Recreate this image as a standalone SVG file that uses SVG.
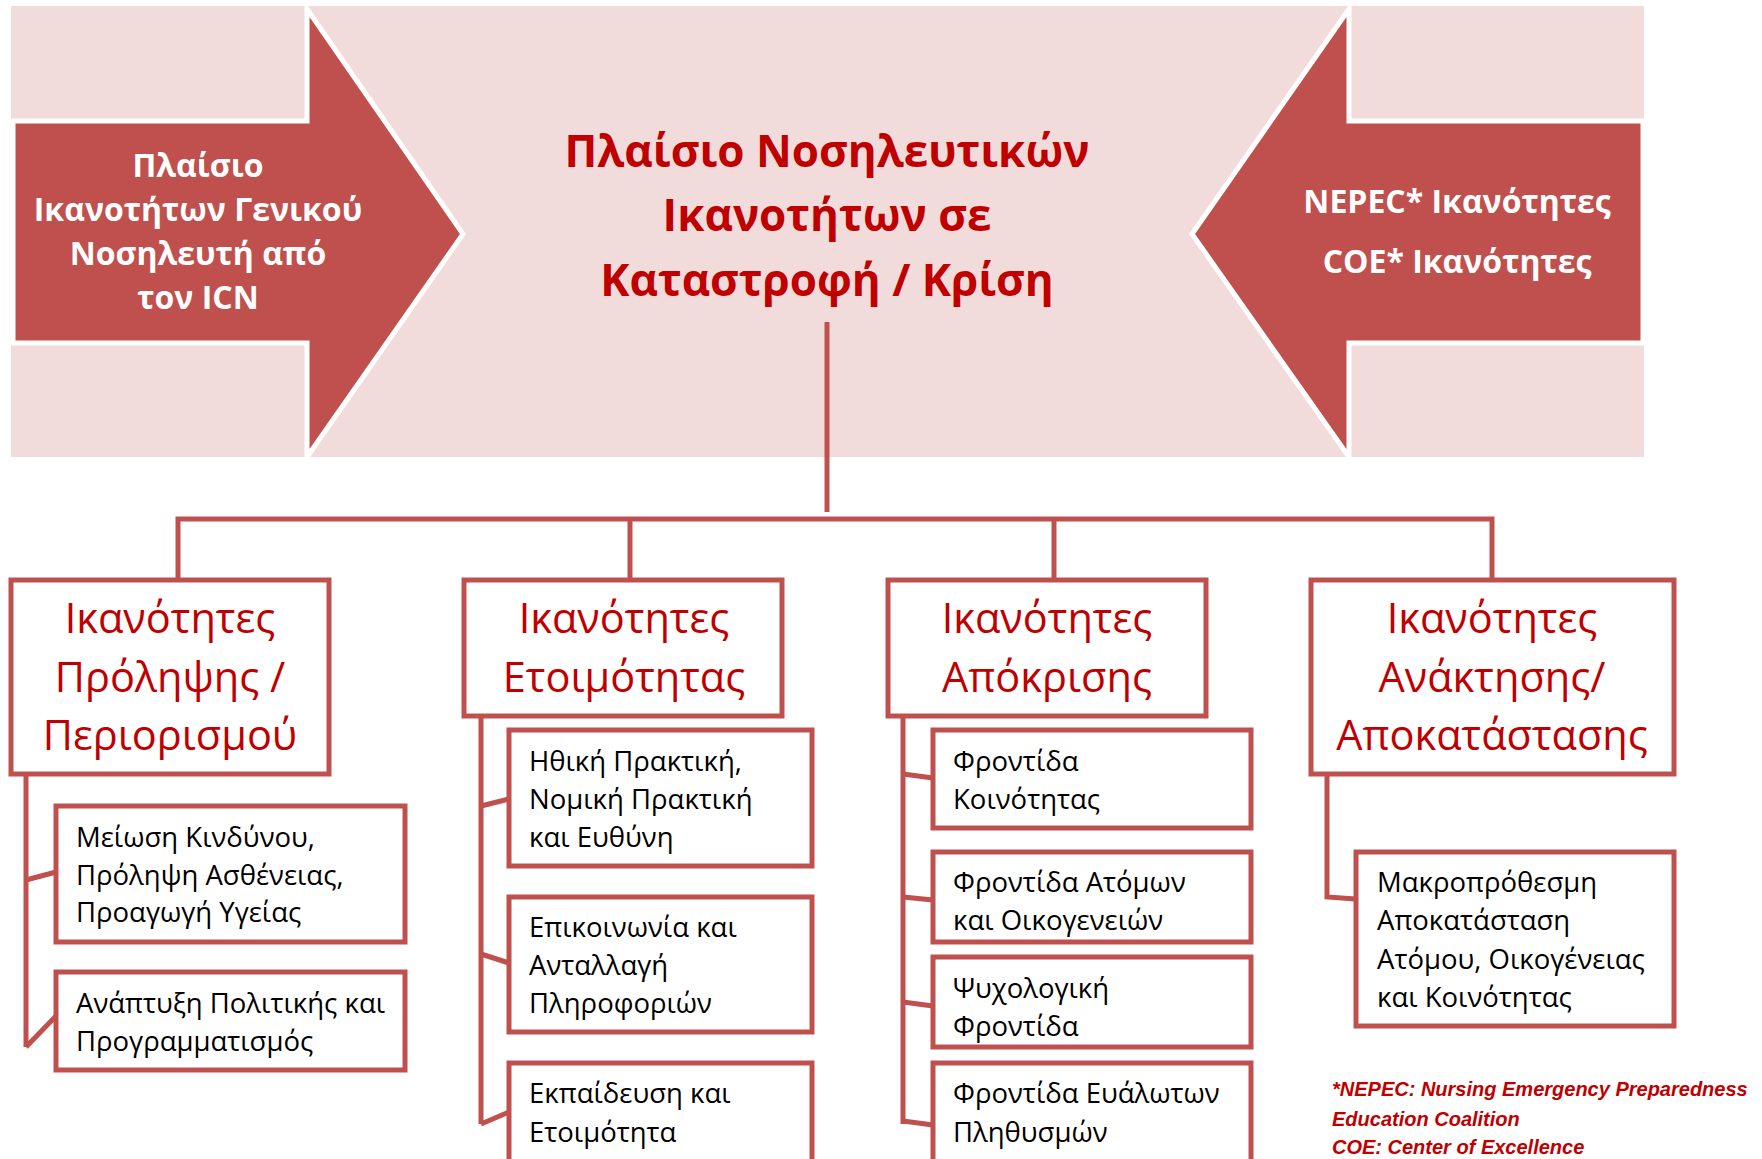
<svg xmlns="http://www.w3.org/2000/svg" width="1762" height="1159" viewBox="0 0 1762 1159">
<style>
.bg{fill:#F2DCDB}
.arrow{fill:#C0504D;stroke:#FFFFFF;stroke-width:5;stroke-linejoin:miter}
.title{font-family:"Open Sans","Noto Sans",sans-serif;font-weight:bold;font-size:44px;fill:#C00000;text-anchor:middle}
.atext{font-family:"Open Sans","Noto Sans",sans-serif;font-weight:bold;font-size:32px;fill:#FFFFFF;text-anchor:middle}
.box{fill:#FFFFFF;stroke:#C0504D;stroke-width:5}
.cat{font-family:"Open Sans","Noto Sans",sans-serif;font-size:41.5px;fill:#C00000;text-anchor:middle}
.sub{font-family:"Open Sans","Noto Sans",sans-serif;font-size:27.5px;fill:#000000}
.conn{stroke:#C0504D;stroke-width:5;fill:none}
.note{font-family:"Liberation Sans",Arial,sans-serif;font-weight:bold;font-style:italic;font-size:20px;fill:#C00000}
</style>
<rect class="bg" x="11" y="6" width="1633" height="451"/>
<g id="arrow-left">
<polygon class="arrow" points="13,121 307,121 307,9 463,234 307,457 307,343 13,343"/>
<text class="atext"><tspan x="198" y="177">Πλαίσιο</tspan><tspan x="198" y="221">Ικανοτήτων Γενικού</tspan><tspan x="198" y="265">Νοσηλευτή από</tspan><tspan x="198" y="309">τον ICN</tspan></text>
</g>
<g id="arrow-right">
<polygon class="arrow" points="1643,121 1349,121 1349,9 1192,234 1349,457 1349,343 1643,343"/>
<text class="atext"><tspan x="1457" y="213">NEPEC* Ικανότητες</tspan><tspan x="1457" y="273">COE* Ικανότητες</tspan></text>
</g>
<g id="title">
<text class="title"><tspan x="827" y="167">Πλαίσιο Νοσηλευτικών</tspan><tspan x="827" y="231">Ικανοτήτων σε</tspan><tspan x="827" y="296">Καταστροφή / Κρίση</tspan></text>
</g>
<g id="connectors">
<line class="conn" x1="827" y1="322" x2="827" y2="512"/>
<polyline class="conn" points="178,580 178,519 1492,519 1492,580"/>
<line class="conn" x1="630" y1="519" x2="630" y2="580"/>
<line class="conn" x1="1054" y1="519" x2="1054" y2="580"/>
<polyline class="conn" points="56,872 26,880"/>
<line class="conn" x1="26" y1="774" x2="26" y2="1047"/>
<polyline class="conn" points="26,1047 56,1016"/>
<line class="conn" x1="481" y1="716" x2="481" y2="1124"/>
<polyline class="conn" points="481,806 509,799"/>
<polyline class="conn" points="481,954 509,963"/>
<polyline class="conn" points="481,1124 509,1112"/>
<line class="conn" x1="903" y1="716" x2="903" y2="1124"/>
<polyline class="conn" points="903,774 933,778"/>
<polyline class="conn" points="903,897 933,900"/>
<polyline class="conn" points="903,1002 933,1006"/>
<polyline class="conn" points="903,1121 933,1125"/>
<polyline class="conn" points="1327,774 1327,897 1356,899"/>
</g>
<g id="cat-prevention">
<rect class="box" x="11" y="580" width="318" height="194"/>
<text class="cat"><tspan x="170" y="633">Ικανότητες</tspan><tspan x="170" y="692">Πρόληψης /</tspan><tspan x="170" y="750">Περιορισμού</tspan></text>
</g>
<g id="cat-preparedness">
<rect class="box" x="464" y="580" width="318" height="136"/>
<text class="cat"><tspan x="624" y="633">Ικανότητες</tspan><tspan x="624" y="692">Ετοιμότητας</tspan></text>
</g>
<g id="cat-response">
<rect class="box" x="888" y="580" width="318" height="136"/>
<text class="cat"><tspan x="1047" y="633">Ικανότητες</tspan><tspan x="1047" y="692">Απόκρισης</tspan></text>
</g>
<g id="cat-recovery">
<rect class="box" x="1311" y="580" width="363" height="194"/>
<text class="cat"><tspan x="1492" y="633">Ικανότητες</tspan><tspan x="1492" y="692">Ανάκτησης/</tspan><tspan x="1492" y="750">Αποκατάστασης</tspan></text>
</g>
<g id="sub-risk">
<rect class="box" x="56" y="806" width="349" height="136"/>
<text class="sub"><tspan x="76" y="847">Μείωση Κινδύνου,</tspan><tspan x="76" y="885">Πρόληψη Ασθένειας,</tspan><tspan x="76" y="922">Προαγωγή Υγείας</tspan></text>
</g>
<g id="sub-policy">
<rect class="box" x="56" y="972" width="349" height="98"/>
<text class="sub"><tspan x="76" y="1013">Ανάπτυξη Πολιτικής και</tspan><tspan x="76" y="1051">Προγραμματισμός</tspan></text>
</g>
<g id="sub-ethics">
<rect class="box" x="509" y="730" width="303" height="136"/>
<text class="sub"><tspan x="529" y="771">Ηθική Πρακτική,</tspan><tspan x="529" y="809">Νομική Πρακτική</tspan><tspan x="529" y="847">και Ευθύνη</tspan></text>
</g>
<g id="sub-communication">
<rect class="box" x="509" y="897" width="303" height="135"/>
<text class="sub"><tspan x="529" y="937">Επικοινωνία και</tspan><tspan x="529" y="975">Ανταλλαγή</tspan><tspan x="529" y="1013">Πληροφοριών</tspan></text>
</g>
<g id="sub-education">
<rect class="box" x="509" y="1063" width="303" height="110"/>
<text class="sub"><tspan x="529" y="1103">Εκπαίδευση και</tspan><tspan x="529" y="1142">Ετοιμότητα</tspan></text>
</g>
<g id="sub-community">
<rect class="box" x="933" y="730" width="318" height="98"/>
<text class="sub"><tspan x="953" y="771">Φροντίδα</tspan><tspan x="953" y="809">Κοινότητας</tspan></text>
</g>
<g id="sub-individuals">
<rect class="box" x="933" y="852" width="318" height="90"/>
<text class="sub"><tspan x="953" y="892">Φροντίδα Ατόμων</tspan><tspan x="953" y="930">και Οικογενειών</tspan></text>
</g>
<g id="sub-psych">
<rect class="box" x="933" y="957" width="318" height="90"/>
<text class="sub"><tspan x="953" y="998">Ψυχολογική</tspan><tspan x="953" y="1036">Φροντίδα</tspan></text>
</g>
<g id="sub-vulnerable">
<rect class="box" x="933" y="1063" width="318" height="110"/>
<text class="sub"><tspan x="953" y="1103">Φροντίδα Ευάλωτων</tspan><tspan x="953" y="1142">Πληθυσμών</tspan></text>
</g>
<g id="sub-longterm">
<rect class="box" x="1356" y="852" width="318" height="174"/>
<text class="sub"><tspan x="1377" y="892">Μακροπρόθεσμη</tspan><tspan x="1377" y="930">Αποκατάσταση</tspan><tspan x="1377" y="969">Ατόμου, Οικογένειας</tspan><tspan x="1377" y="1007">και Κοινότητας</tspan></text>
</g>
<g id="footnote">
<text class="note"><tspan x="1332" y="1096">*NEPEC: Nursing Emergency Preparedness</tspan><tspan x="1332" y="1126">Education Coalition</tspan><tspan x="1332" y="1154">COE: Center of Excellence</tspan></text>
</g>
</svg>
